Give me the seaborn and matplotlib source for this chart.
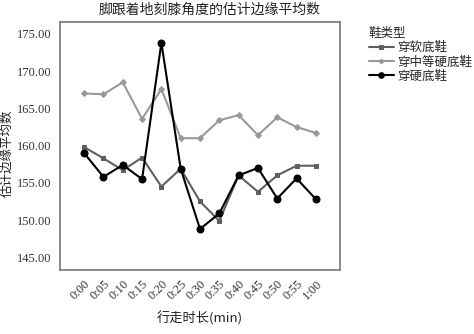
import matplotlib
matplotlib.use("Agg")
import matplotlib.pyplot as plt
import seaborn as sns
import pandas as pd

# Walking time points (min) and estimated marginal means of knee angle at heel strike
times = ["0:00", "0:05", "0:10", "0:15", "0:20", "0:25", "0:30",
         "0:35", "0:40", "0:45", "0:50", "0:55", "1:00"]
soft_sole = [159.8, 158.3, 156.7, 158.4, 154.5, 156.9, 152.5,
             149.9, 156.0, 153.8, 156.0, 157.3, 157.3]
medium_sole = [167.0, 166.9, 168.5, 163.6, 167.6, 161.0, 161.0,
               163.4, 164.1, 161.4, 163.8, 162.5, 161.7]
hard_sole = [159.0, 155.8, 157.4, 155.5, 173.8, 156.9, 148.8,
             150.9, 156.0, 157.0, 152.9, 155.6, 152.8]
shoe_types = ["穿软底鞋", "穿中等硬底鞋", "穿硬底鞋"]

rows = []
for name, vals in zip(shoe_types, [soft_sole, medium_sole, hard_sole]):
    for i, v in enumerate(vals):
        rows.append({"pos": i, "time": times[i], "shoe": name, "value": v})
df = pd.DataFrame(rows)

sns.set_theme(style="white")
plt.rcParams["font.family"] = ["Noto Sans CJK SC", "DejaVu Sans"]

fig = plt.figure(figsize=(4.74, 3.34), dpi=100)
ax = fig.add_axes([60 / 474, 1 - 270 / 334, 280 / 474, 248 / 334])

palette = {"穿软底鞋": "#5f5f5f", "穿中等硬底鞋": "#999999", "穿硬底鞋": "#000000"}
markers = {"穿软底鞋": "s", "穿中等硬底鞋": "D", "穿硬底鞋": "o"}
sizes = {"穿软底鞋": 3.5, "穿中等硬底鞋": 3.0, "穿硬底鞋": 5.0}

for name in shoe_types:
    sub = df[df["shoe"] == name]
    sns.lineplot(data=sub, x="pos", y="value", ax=ax, color=palette[name],
                 marker=markers[name], markersize=sizes[name],
                 markeredgecolor=palette[name], linewidth=1.5, label=name,
                 estimator=None, sort=False)

ax.set_xlim(-1.25, 13.25)
ax.set_ylim(143.3, 176.6)
ax.set_xticks(range(len(times)))
ax.set_xticklabels(times, rotation=45, ha="right", rotation_mode="anchor",
                   fontfamily="Liberation Serif", fontsize=9)
yt = [145, 150, 155, 160, 165, 170, 175]
ax.set_yticks(yt)
ax.set_yticklabels([f"{v:.2f}" for v in yt], fontfamily="Liberation Serif",
                   fontsize=9)
ax.tick_params(axis="both", direction="out", length=4, width=1,
               color="#555555", pad=2, labelcolor="#333333")
for sp in ax.spines.values():
    sp.set_color("#777777")
    sp.set_linewidth(1.2)

ax.set_xlabel("行走时长(min)", fontsize=9.5, color="#222222",
              family=["Noto Sans CJK SC", "DejaVu Sans"], labelpad=6)
ax.set_ylabel("估计边缘平均数", fontsize=9, color="#222222", labelpad=3)
ax.yaxis.set_label_coords(-0.165, 0.47)
fig.text(210 / 474, 1 - 10 / 334, "脚跟着地刻膝角度的估计边缘平均数",
         ha="center", va="center", fontsize=10, color="#222222")

leg = ax.legend(title="鞋类型", loc="upper left", bbox_to_anchor=(1.085, 1.0),
                frameon=False, fontsize=9, title_fontsize=9,
                handlelength=2.0, handletextpad=0.3, labelspacing=0.1,
                borderaxespad=0.0, markerscale=0.8)
leg._legend_box.align = "left"

fig.savefig("out.png", dpi=100)
